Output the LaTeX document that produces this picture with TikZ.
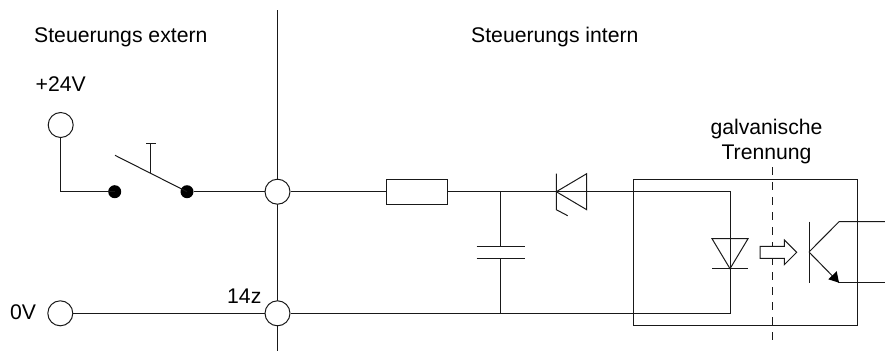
\documentclass[tikz,border=0pt]{standalone}
\usepackage{fontspec}
\setmainfont{Liberation Sans}
\usetikzlibrary{arrows.meta}
\tikzset{
  wire/.style={line width=1pt,black!90},
  term/.style={circle,draw=black!90,fill=white,line width=1pt,minimum size=25pt,inner sep=0pt},
  dotn/.style={circle,fill=black,minimum size=13pt,inner sep=0pt},
  lab/.style={inner sep=0pt,font=\fontsize{21.2pt}{24.3pt}\selectfont,align=center,anchor=base west},
}
\begin{document}
\begin{tikzpicture}[x=1pt,y=-1pt]
\useasboundingbox (0,0) rectangle (885,351);
\coordinate (sepT) at (277.5,10);
\coordinate (sepB) at (277.5,351);
\draw[wire] (sepT) -- (sepB);
\node[term] (vcc) at (60.7,125) {};
\node[term] (gnd) at (60.3,313.3) {};
\node[term] (j1) at (277.5,191.7) {};
\node[term] (j2) at (277.5,313.3) {};
\node[dotn] (s1) at (114.7,191.7) {};
\node[dotn] (s2) at (187,191.7) {};
\node[draw=black!90,fill=white,line width=1pt,minimum width=61pt,minimum height=25pt,inner sep=0pt] (res) at (416.5,191.7) {};
\coordinate (cap) at (500.3,191.7);
\coordinate (capB) at (500.3,313.3);
\coordinate (capP1) at (500.3,246.3);
\coordinate (capP2) at (500.3,258.3);
\coordinate (ledTop) at (730,191.7);
\coordinate (ledBot) at (730,313.3);
\draw[wire] (vcc.south) |- (s1.center);
\draw[wire] (s2) -- (j1);
\draw[wire] (j1) -- (res);
\draw[wire] (res) -- (cap) -- (ledTop) -- (ledBot) -- (capB) -- (j2);
\draw[wire] (j2) -- (gnd);
\draw[wire] (cap) -- (capP1);
\draw[wire] (capP2) -- (capB);
\draw[wire] (476.7,246.3) -- (525,246.3);
\draw[wire] (476.7,258.3) -- (525,258.3);
\draw[wire] (115,155.3) -- (s2.center);
\draw[wire] (150.7,173.3) -- (150.7,143.3);
\draw[wire] (146.3,143.3) -- (155.7,143.3);
\draw[wire] (586.7,173.7) -- (586.7,209.7) -- (556.3,191.7) -- cycle;
\draw[wire] (556.3,173.7) -- (556.3,209.7) -- (567.7,215.7);
\node[draw=black!90,line width=1pt,minimum width=223.7pt,minimum height=145.8pt,inner sep=0pt] (opto) at (745.2,252.4) {};
\draw[wire] (712,238.7) -- (748,238.7) -- (730,268.7) -- cycle;
\draw[wire] (712,268.7) -- (748,268.7);
\draw[wire,dash pattern=on 8pt off 7pt] (772.7,167) -- (772.7,343);
\draw[line width=1pt,black!90,fill=white] (760,246.3) -- (784.3,246.3) -- (784.3,240) -- (796.7,252.3) -- (784.3,264.7) -- (784.3,258.3) -- (760,258.3) -- cycle;
\draw[wire] (809,221.7) -- (809,282.7);
\draw[wire] (885,221.7) -- (839,221.7) -- (809,252);
\draw[wire] (885,282.7) -- (839,282.7);
\draw[wire] (809,252) -- (839,282.7);
\fill[black] (839,282.7) -- (828.3,279.3) -- (836.7,271.2) -- cycle;
\node[lab] (t1) at (34,42.7) {Steuerungs extern};
\node[lab] (t2) at (471,42.7) {Steuerungs intern};
\node[lab] (t3) at (35.5,91.7) {+24V};
\node[lab] (t4) at (10,319.3) {0V};
\node[lab] (t5) at (227,303.3) {14z};
\node[lab,anchor=center] (t6) at (766.5,141.5) {galvanische\\Trennung};
\end{tikzpicture}
\end{document}
